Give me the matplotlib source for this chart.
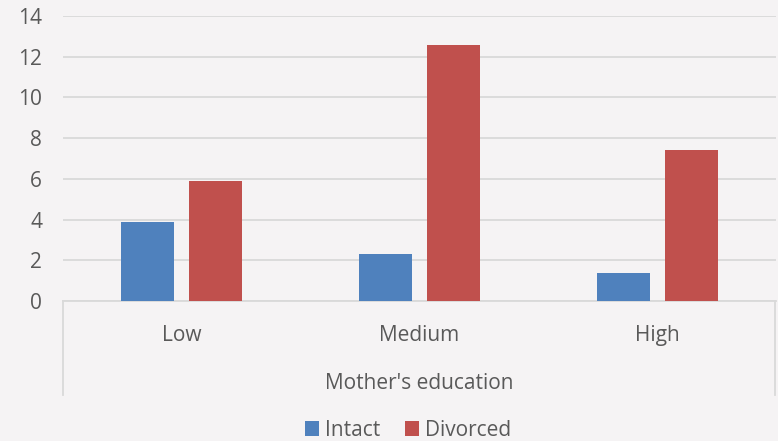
import matplotlib
matplotlib.use("Agg")
import matplotlib.pyplot as plt
import numpy as np
from matplotlib.lines import Line2D

categories = ["Low", "Medium", "High"]
intact = [3.9, 2.3, 1.4]
divorced = [5.9, 12.6, 7.4]
series_names = ["Intact", "Divorced"]
yticks = [0, 2, 4, 6, 8, 10, 12, 14]

plt.rcParams['font.family'] = ["Open Sans", 'DejaVu Sans']

BG = "#F5F3F4"
TXT = "#595959"
GRID = "#D9D9D9"
BLUE = "#4F81BD"
RED = "#C0504D"
FS = 15

fig = plt.figure(figsize=(7.78, 4.41), dpi=100, facecolor=BG)
ax = fig.add_axes([63/778, 140/441, (776-63)/778, (425-140)/441], facecolor=BG)

x = np.arange(len(categories))
w = 0.223
off = 0.143
ax.bar(x - off, intact, w, color=BLUE, label=series_names[0], zorder=3)
ax.bar(x + off, divorced, w, color=RED, label=series_names[1], zorder=3)

ax.set_xlim(-0.5, len(categories) - 0.5)
ax.set_ylim(0, 14)
ax.set_yticks(yticks)
ax.set_yticklabels([str(t) for t in yticks])
ax.yaxis.grid(True, color=GRID, linewidth=1.3, zorder=0)
ax.set_axisbelow(True)
ax.tick_params(axis='y', length=0, pad=15, labelsize=FS, labelcolor=TXT)
ax.set_xticks(x)
ax.set_xticklabels(categories)
ax.tick_params(axis='x', length=0, pad=17, labelsize=FS, labelcolor=TXT)
ax.set_xlabel("Mother's education", fontsize=FS, color=TXT, labelpad=20)

for s in ["top", "right", "left"]:
    ax.spines[s].set_visible(False)
ax.spines["bottom"].set_color(GRID)
ax.spines["bottom"].set_linewidth(1.3)

# category-axis box sides
for xf in [0.0, 1.0 - 1/713]:
    ax.add_line(Line2D([xf, xf], [0, -94/285], transform=ax.transAxes,
                       color=GRID, linewidth=1.3, clip_on=False))

leg = fig.legend(loc="center", bbox_to_anchor=(408/778, 11/441), ncol=2,
                 frameon=False, fontsize=FS, handlelength=0.65, handleheight=0.75,
                 handletextpad=0.3, columnspacing=1.2, borderpad=0)
for t in leg.get_texts():
    t.set_color(TXT)

fig.savefig("out.png", dpi=100, facecolor=BG)
